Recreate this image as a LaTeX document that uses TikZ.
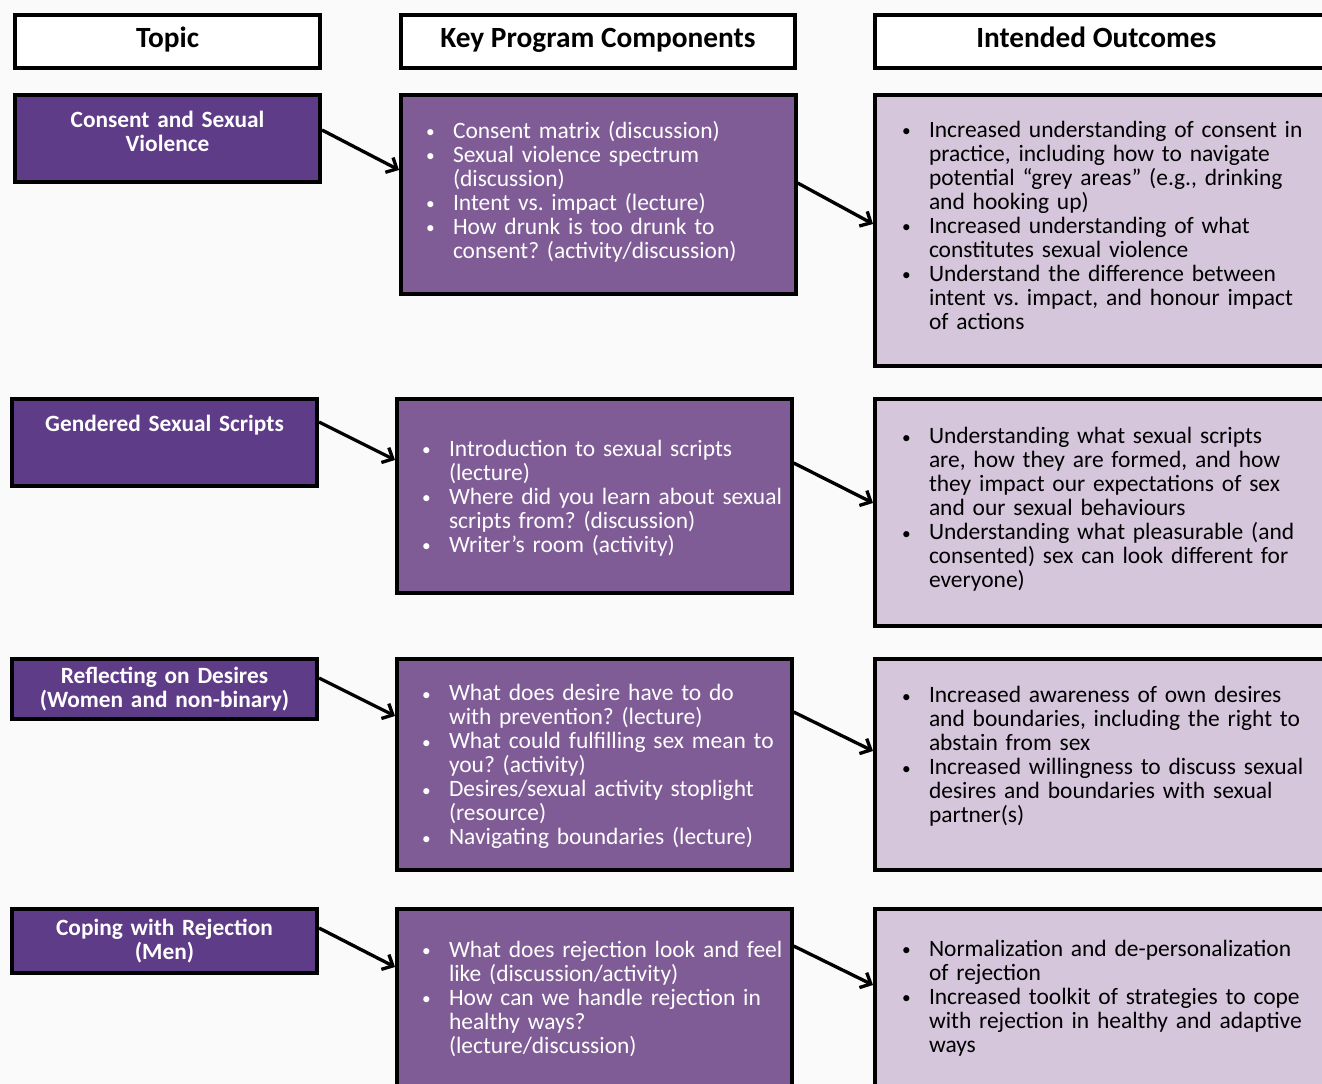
\documentclass[tikz,border=0pt]{standalone}
\usepackage{fontspec}
\setmainfont{Carlito}
\usepackage{xcolor}
\usetikzlibrary{arrows.meta,positioning}
\frenchspacing

\definecolor{pagebg}{RGB}{250,250,250}
\definecolor{topicpurple}{RGB}{95,60,135}
\definecolor{comppurple}{RGB}{128,92,150}
\definecolor{outlilac}{RGB}{213,198,220}

% bullet line and continuation line
\newcommand{\itm}{\hspace*{22pt}\makebox[0pt]{\raisebox{0.6pt}{\fontsize{13}{13}\selectfont\textbullet}}\hspace*{17pt}}
\newcommand{\cnt}{\hspace*{39pt}}

\tikzset{
  every picture/.append style={x=0.75pt, y=-0.75pt},
}

\begin{document}
\begin{tikzpicture}[
  header/.style={rectangle, draw=black, line width=3pt, fill=white, anchor=north west, align=center, inner sep=0pt, minimum height=39.75pt, text height=15pt, text depth=5.6pt, font=\fontsize{22}{22}\selectfont\bfseries},
  topic/.style={rectangle, draw=black, line width=3pt, fill=topicpurple, text=white, anchor=north west, align=center, inner sep=0pt, text width=228.75pt, font=\fontsize{17.5}{18}\selectfont\bfseries},
  component/.style={rectangle, draw=black, line width=3pt, fill=comppurple, text=white, anchor=north west, align=left, inner sep=0pt, text width=296pt, font=\fontsize{17.6}{18}\selectfont},
  outcome/.style={rectangle, draw=black, line width=3pt, fill=outlilac, text=black, anchor=north west, align=left, inner xsep=1.5pt, inner ysep=0pt, text width=357pt, font=\fontsize{17.6}{18}\selectfont},
  arrow/.style={-{Straight Barb[length=6.5pt,width=12.5pt]}, line width=2.5pt, black}
]

\useasboundingbox (0,0) rectangle (1322,1084);
\clip (0,0) rectangle (1322,1084);
\fill[pagebg] (0,0) rectangle (1322,1084);

% Column headers
\node[header, minimum width=228.75pt] (htopic) at (13,13) {Topic};
\node[header, minimum width=295.5pt] (hcomp) at (399,13) {Key Program Components};
\node[header, minimum width=360pt] (hout) at (873,13) {\hspace*{-28pt}Intended Outcomes};

% Row 1
\node[topic, minimum height=65.25pt, text depth=29.5pt] (t1) at (13,93) {Consent and Sexual\\Violence};
\node[component, minimum height=149.25pt, text depth=97pt] (c1) at (399,93) {%
\itm Consent matrix (discussion)\\
\itm Sexual violence spectrum\\
\cnt (discussion)\\
\itm Intent vs. impact (lecture)\\
\itm How drunk is too drunk to\\
\cnt consent? (activity/discussion)};
\node[outcome, minimum height=203.25pt, text depth=151.5pt] (o1) at (873,93) {%
\itm Increased understanding of consent in\\
\cnt practice, including how to navigate\\
\cnt potential “grey areas” (e.g., drinking\\
\cnt and hooking up)\\
\itm Increased understanding of what\\
\cnt constitutes sexual violence\\
\itm Understand the difference between\\
\cnt intent vs. impact, and honour impact\\
\cnt of actions};

% Row 2
\node[topic, minimum height=65.25pt, text depth=29.5pt] (t2) at (10,397) {Gendered Sexual Scripts};
\node[component, minimum height=145.5pt, text depth=71.5pt] (c2) at (395,397) {%
\itm Introduction to sexual scripts\\
\cnt (lecture)\\
\itm Where did you learn about sexual\\
\cnt scripts from? (discussion)\\
\itm Writer’s room (activity)};
\node[outcome, minimum height=170.25pt, text depth=115pt] (o2) at (873,397) {%
\itm Understanding what sexual scripts\\
\cnt are, how they are formed, and how\\
\cnt they impact our expectations of sex\\
\cnt and our sexual behaviours\\
\itm Understanding what pleasurable (and\\
\cnt consented) sex can look different for\\
\cnt everyone)};

% Row 3
\node[topic, minimum height=45pt] (t3) at (10,657) {Reflecting on Desires\\(Women and non-binary)};
\node[component, minimum height=158.25pt, text depth=107.5pt] (c3) at (395,657) {%
\itm What does desire have to do\\
\cnt with prevention? (lecture)\\
\itm What could fulfilling sex mean to\\
\cnt you? (activity)\\
\itm Desires/sexual activity stoplight\\
\cnt (resource)\\
\itm Navigating boundaries (lecture)};
\node[outcome, minimum height=158.25pt, text depth=104.5pt] (o3) at (873,657) {%
\itm Increased awareness of own desires\\
\cnt and boundaries, including the right to\\
\cnt abstain from sex\\
\itm Increased willingness to discuss sexual\\
\cnt desires and boundaries with sexual\\
\cnt partner(s)};

% Row 4
\node[topic, minimum height=48pt] (t4) at (10,907) {Coping with Rejection\\(Men)};
\node[component, minimum height=134.25pt] (c4) at (395,907) {%
\itm What does rejection look and feel\\
\cnt like (discussion/activity)\\
\itm How can we handle rejection in\\
\cnt healthy ways?\\
\cnt (lecture/discussion)};
\node[outcome, minimum height=134.25pt] (o4) at (873,907) {%
\itm Normalization and de-personalization\\
\cnt of rejection\\
\itm Increased toolkit of strategies to cope\\
\cnt with rejection in healthy and adaptive\\
\cnt ways};

% Topic -> components -> outcomes
\draw[arrow] ([yshift=-27.75pt]t1.north east) -- ([yshift=-57.75pt]c1.north west);
\draw[arrow] ([yshift=-67.5pt]c1.north east) -- ([yshift=-98.25pt]o1.north west);
\draw[arrow] ([yshift=-18.75pt]t2.north east) -- ([yshift=-47.25pt]c2.north west);
\draw[arrow] ([yshift=-49.5pt]c2.north east) -- ([yshift=-79.5pt]o2.north west);
\draw[arrow] ([yshift=-15.75pt]t3.north east) -- ([yshift=-44.25pt]c3.north west);
\draw[arrow] ([yshift=-41.25pt]c3.north east) -- ([yshift=-70.5pt]o3.north west);
\draw[arrow] ([yshift=-15.75pt]t4.north east) -- ([yshift=-45pt]c4.north west);
\draw[arrow] ([yshift=-29.25pt]c4.north east) -- ([yshift=-58.5pt]o4.north west);

\end{tikzpicture}
\end{document}
